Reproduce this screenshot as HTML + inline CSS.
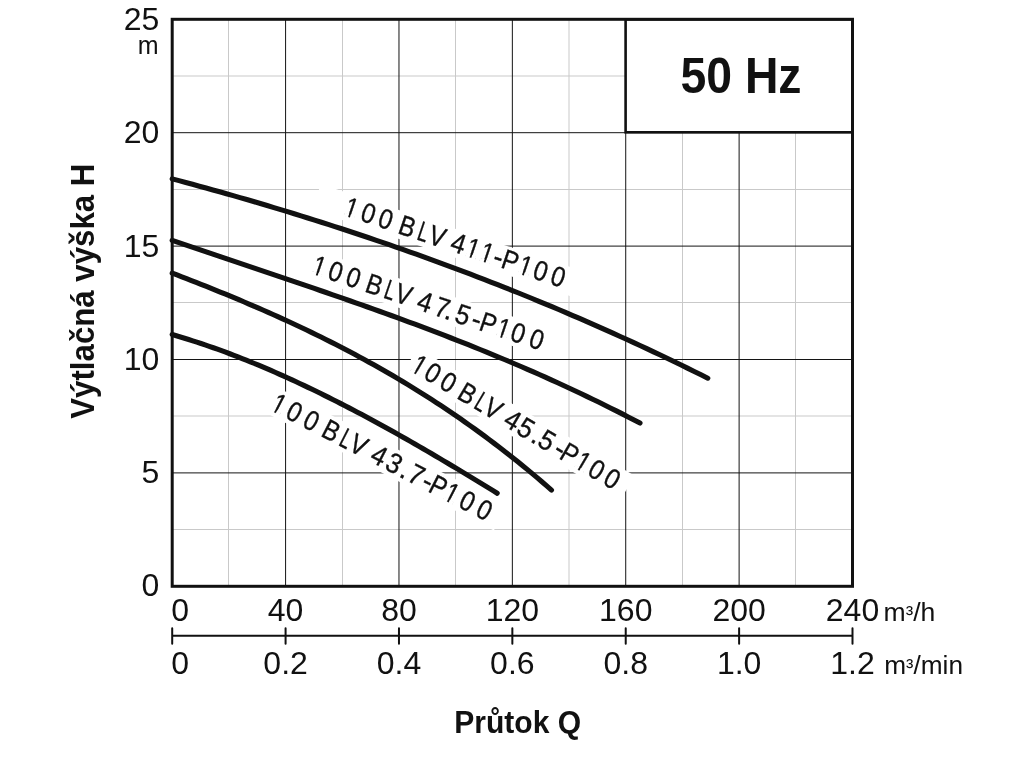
<!DOCTYPE html><html><head><meta charset="utf-8"><title>50 Hz</title><style>html,body{margin:0;padding:0;background:#fff;overflow:hidden;}svg{display:block;filter:grayscale(1);}</style></head><body>
<svg width="1024" height="768" viewBox="0 0 1024 768">
<rect width="1024" height="768" fill="#fff"/>
<path d="M228.5,19.3V586.3M342.5,19.3V586.3M455.5,19.3V586.3M569.0,19.3V586.3M682.5,19.3V586.3M795.5,19.3V586.3M172.2,76.0H852.5M172.2,189.5H852.5M172.2,302.5H852.5M172.2,416.0H852.5M172.2,529.5H852.5" stroke="#c9c9c9" stroke-width="1" fill="none"/>
<path d="M285.58,19.30V586.30M398.97,19.30V586.30M512.35,19.30V586.30M625.73,19.30V586.30M739.12,19.30V586.30M172.20,132.70H852.50M172.20,246.10H852.50M172.20,359.50H852.50M172.20,472.90H852.50" stroke="#141414" stroke-width="1" fill="none"/>
<rect x="625.6" y="19.3" width="226.90" height="113.00" fill="#fff" stroke="#111" stroke-width="2.6"/>
<text x="680.5" y="93.3" font-family="'Liberation Sans', sans-serif" font-weight="bold" font-size="50" fill="#111" textLength="121" lengthAdjust="spacingAndGlyphs">50 Hz</text>
<rect x="172.2" y="19.3" width="680.30" height="567.00" fill="none" stroke="#111" stroke-width="3"/>
<rect transform="translate(341.20,214.40) rotate(18.44)" x="-29" y="-22.5" width="272.5" height="27.5" fill="#fff"/><rect transform="translate(308.84,272.79) rotate(18.61)" x="-2.5" y="-23.5" width="257.6" height="28.0" fill="#fff"/><rect transform="translate(407.87,369.42) rotate(30.52)" x="-2.5" y="-23.5" width="251.9" height="28.0" fill="#fff"/><rect transform="translate(267.67,408.67) rotate(27.32)" x="-2.5" y="-23.5" width="259.4" height="28.0" fill="#fff"/>
<path d="M172.20,178.85 L178.98,180.66 L185.76,182.48 L192.54,184.32 L199.32,186.17 L206.10,188.04 L212.88,189.92 L219.66,191.82 L226.44,193.73 L233.22,195.66 L240.00,197.61 L246.78,199.57 L253.56,201.55 L260.34,203.54 L267.12,205.55 L273.90,207.58 L280.68,209.62 L287.46,211.68 L294.24,213.76 L301.02,215.85 L307.79,217.96 L314.57,220.09 L321.35,222.24 L328.13,224.40 L334.91,226.59 L341.69,228.79 L348.47,231.00 L355.25,233.24 L362.03,235.49 L368.81,237.77 L375.59,240.06 L382.37,242.37 L389.15,244.70 L395.93,247.05 L402.71,249.42 L409.49,251.80 L416.27,254.21 L423.05,256.64 L429.83,259.08 L436.61,261.55 L443.39,264.03 L450.17,266.54 L456.95,269.07 L463.73,271.62 L470.51,274.18 L477.29,276.77 L484.07,279.38 L490.85,282.01 L497.63,284.67 L504.41,287.34 L511.19,290.03 L517.97,292.75 L524.75,295.49 L531.53,298.25 L538.31,301.03 L545.09,303.84 L551.87,306.66 L558.65,309.51 L565.43,312.39 L572.21,315.28 L578.98,318.20 L585.76,321.14 L592.54,324.10 L599.32,327.09 L606.10,330.10 L612.88,333.14 L619.66,336.20 L626.44,339.28 L633.22,342.39 L640.00,345.52 L646.78,348.67 L653.56,351.85 L660.34,355.06 L667.12,358.29 L673.90,361.54 L680.68,364.82 L687.46,368.13 L694.24,371.46 L701.02,374.81 L707.80,378.19" stroke="#111" stroke-width="5.1" fill="none" stroke-linecap="round" stroke-linejoin="round"/>
<path d="M172.20,240.36 L178.12,242.38 L184.04,244.40 L189.96,246.41 L195.89,248.42 L201.81,250.42 L207.73,252.42 L213.65,254.42 L219.57,256.41 L225.49,258.41 L231.42,260.40 L237.34,262.39 L243.26,264.38 L249.18,266.37 L255.10,268.37 L261.02,270.36 L266.94,272.35 L272.87,274.35 L278.79,276.35 L284.71,278.36 L290.63,280.36 L296.55,282.37 L302.47,284.39 L308.39,286.41 L314.32,288.44 L320.24,290.47 L326.16,292.51 L332.08,294.56 L338.00,296.61 L343.92,298.67 L349.85,300.74 L355.77,302.82 L361.69,304.91 L367.61,307.01 L373.53,309.12 L379.45,311.24 L385.37,313.38 L391.30,315.52 L397.22,317.68 L403.14,319.85 L409.06,322.04 L414.98,324.23 L420.90,326.45 L426.83,328.68 L432.75,330.92 L438.67,333.18 L444.59,335.46 L450.51,337.75 L456.43,340.06 L462.35,342.39 L468.28,344.74 L474.20,347.10 L480.12,349.49 L486.04,351.89 L491.96,354.32 L497.88,356.77 L503.81,359.24 L509.73,361.73 L515.65,364.24 L521.57,366.78 L527.49,369.34 L533.41,371.92 L539.33,374.53 L545.26,377.16 L551.18,379.82 L557.10,382.50 L563.02,385.21 L568.94,387.95 L574.86,390.72 L580.78,393.51 L586.71,396.33 L592.63,399.18 L598.55,402.06 L604.47,404.97 L610.39,407.91 L616.31,410.88 L622.24,413.88 L628.16,416.92 L634.08,419.98 L640.00,423.08" stroke="#111" stroke-width="5.1" fill="none" stroke-linecap="round" stroke-linejoin="round"/>
<path d="M172.20,273.09 L177.00,274.93 L181.80,276.78 L186.60,278.65 L191.41,280.52 L196.21,282.41 L201.01,284.30 L205.81,286.21 L210.61,288.13 L215.41,290.07 L220.21,292.02 L225.01,293.98 L229.82,295.96 L234.62,297.95 L239.42,299.96 L244.22,301.99 L249.02,304.03 L253.82,306.09 L258.62,308.17 L263.42,310.26 L268.23,312.38 L273.03,314.51 L277.83,316.67 L282.63,318.84 L287.43,321.04 L292.23,323.26 L297.03,325.50 L301.83,327.76 L306.64,330.05 L311.44,332.36 L316.24,334.70 L321.04,337.06 L325.84,339.44 L330.64,341.85 L335.44,344.29 L340.24,346.76 L345.05,349.25 L349.85,351.77 L354.65,354.32 L359.45,356.90 L364.25,359.51 L369.05,362.14 L373.85,364.81 L378.65,367.51 L383.46,370.25 L388.26,373.01 L393.06,375.81 L397.86,378.64 L402.66,381.50 L407.46,384.40 L412.26,387.34 L417.06,390.31 L421.87,393.31 L426.67,396.36 L431.47,399.44 L436.27,402.55 L441.07,405.71 L445.87,408.90 L450.67,412.14 L455.47,415.41 L460.28,418.72 L465.08,422.08 L469.88,425.47 L474.68,428.91 L479.48,432.39 L484.28,435.91 L489.08,439.48 L493.88,443.09 L498.69,446.75 L503.49,450.45 L508.29,454.19 L513.09,457.99 L517.89,461.83 L522.69,465.71 L527.49,469.65 L532.29,473.63 L537.10,477.66 L541.90,481.74 L546.70,485.87 L551.50,490.05" stroke="#111" stroke-width="5.1" fill="none" stroke-linecap="round" stroke-linejoin="round"/>
<path d="M172.20,334.55 L176.31,335.75 L180.43,336.97 L184.54,338.23 L188.66,339.50 L192.77,340.81 L196.88,342.15 L201.00,343.51 L205.11,344.89 L209.23,346.31 L213.34,347.75 L217.45,349.21 L221.57,350.70 L225.68,352.22 L229.79,353.76 L233.91,355.32 L238.02,356.91 L242.14,358.52 L246.25,360.16 L250.36,361.82 L254.48,363.50 L258.59,365.20 L262.71,366.93 L266.82,368.68 L270.93,370.45 L275.05,372.24 L279.16,374.06 L283.28,375.89 L287.39,377.75 L291.50,379.62 L295.62,381.52 L299.73,383.44 L303.85,385.37 L307.96,387.33 L312.07,389.30 L316.19,391.30 L320.30,393.31 L324.42,395.34 L328.53,397.38 L332.64,399.45 L336.76,401.53 L340.87,403.63 L344.98,405.75 L349.10,407.88 L353.21,410.03 L357.33,412.19 L361.44,414.37 L365.55,416.57 L369.67,418.78 L373.78,421.00 L377.90,423.24 L382.01,425.50 L386.12,427.77 L390.24,430.05 L394.35,432.34 L398.47,434.65 L402.58,436.97 L406.69,439.30 L410.81,441.65 L414.92,444.01 L419.04,446.37 L423.15,448.76 L427.26,451.15 L431.38,453.55 L435.49,455.96 L439.61,458.38 L443.72,460.82 L447.83,463.26 L451.95,465.71 L456.06,468.17 L460.17,470.64 L464.29,473.12 L468.40,475.60 L472.52,478.10 L476.63,480.60 L480.74,483.11 L484.86,485.62 L488.97,488.15 L493.09,490.68 L497.20,493.21" stroke="#111" stroke-width="5.1" fill="none" stroke-linecap="round" stroke-linejoin="round"/>
<text transform="translate(341.20,214.40) rotate(18.44)" y="0" font-family="'Liberation Sans', sans-serif" font-size="28.0" fill="#111" stroke="#111" stroke-width="0.35"><tspan x="1.66" textLength="12.46" lengthAdjust="spacingAndGlyphs">1</tspan><tspan x="18.70" textLength="13.70" lengthAdjust="spacingAndGlyphs">0</tspan><tspan x="36.95" textLength="13.70" lengthAdjust="spacingAndGlyphs">0</tspan><tspan x="51.59"> </tspan><tspan x="58.60" textLength="16.06" lengthAdjust="spacingAndGlyphs">B</tspan><tspan x="78.64" textLength="10.28" lengthAdjust="spacingAndGlyphs">L</tspan><tspan x="90.26" textLength="16.06" lengthAdjust="spacingAndGlyphs">V</tspan><tspan x="107.62"> </tspan><tspan x="113.44" textLength="14.33" lengthAdjust="spacingAndGlyphs">4</tspan><tspan x="129.64" textLength="12.46" lengthAdjust="spacingAndGlyphs">1</tspan><tspan x="144.50" textLength="12.46" lengthAdjust="spacingAndGlyphs">1</tspan><tspan x="158.10" textLength="9.32" lengthAdjust="spacingAndGlyphs">-</tspan><tspan x="167.09" textLength="16.06" lengthAdjust="spacingAndGlyphs">P</tspan><tspan x="184.94" textLength="12.46" lengthAdjust="spacingAndGlyphs">1</tspan><tspan x="200.28" textLength="13.70" lengthAdjust="spacingAndGlyphs">0</tspan><tspan x="218.84" textLength="13.70" lengthAdjust="spacingAndGlyphs">0</tspan></text>
<g transform="translate(341.20,214.40) rotate(18.44)" fill="#fff"><rect x="2.76" y="-2.9" width="4.58" height="4.0"/><rect x="9.22" y="-2.9" width="4.40" height="4.0"/><rect x="130.74" y="-2.9" width="4.58" height="4.0"/><rect x="137.20" y="-2.9" width="4.40" height="4.0"/><rect x="145.60" y="-2.9" width="4.58" height="4.0"/><rect x="152.06" y="-2.9" width="4.40" height="4.0"/><rect x="186.05" y="-2.9" width="4.58" height="4.0"/><rect x="192.50" y="-2.9" width="4.40" height="4.0"/></g>
<text transform="translate(308.84,272.79) rotate(18.61)" y="0" font-family="'Liberation Sans', sans-serif" font-size="28.0" fill="#111" stroke="#111" stroke-width="0.35"><tspan x="1.66" textLength="12.46" lengthAdjust="spacingAndGlyphs">1</tspan><tspan x="18.26" textLength="13.70" lengthAdjust="spacingAndGlyphs">0</tspan><tspan x="37.07" textLength="13.70" lengthAdjust="spacingAndGlyphs">0</tspan><tspan x="51.71"> </tspan><tspan x="58.02" textLength="16.06" lengthAdjust="spacingAndGlyphs">B</tspan><tspan x="77.69" textLength="10.28" lengthAdjust="spacingAndGlyphs">L</tspan><tspan x="88.76" textLength="16.06" lengthAdjust="spacingAndGlyphs">V</tspan><tspan x="106.13"> </tspan><tspan x="112.39" textLength="14.33" lengthAdjust="spacingAndGlyphs">4</tspan><tspan x="130.41" textLength="14.33" lengthAdjust="spacingAndGlyphs">7</tspan><tspan x="141.61" textLength="7.78" lengthAdjust="spacingAndGlyphs">.</tspan><tspan x="152.31" textLength="14.33" lengthAdjust="spacingAndGlyphs">5</tspan><tspan x="169.47" textLength="9.32" lengthAdjust="spacingAndGlyphs">-</tspan><tspan x="178.35" textLength="16.06" lengthAdjust="spacingAndGlyphs">P</tspan><tspan x="196.26" textLength="12.46" lengthAdjust="spacingAndGlyphs">1</tspan><tspan x="210.91" textLength="13.70" lengthAdjust="spacingAndGlyphs">0</tspan><tspan x="230.42" textLength="13.70" lengthAdjust="spacingAndGlyphs">0</tspan></text>
<g transform="translate(308.84,272.79) rotate(18.61)" fill="#fff"><rect x="2.76" y="-2.9" width="4.58" height="4.0"/><rect x="9.22" y="-2.9" width="4.40" height="4.0"/><rect x="197.36" y="-2.9" width="4.58" height="4.0"/><rect x="203.82" y="-2.9" width="4.40" height="4.0"/></g>
<text transform="translate(407.87,369.42) rotate(30.52)" y="0" font-family="'Liberation Sans', sans-serif" font-size="28.0" fill="#111" stroke="#111" stroke-width="0.35"><tspan x="1.66" textLength="12.46" lengthAdjust="spacingAndGlyphs">1</tspan><tspan x="16.57" textLength="13.70" lengthAdjust="spacingAndGlyphs">0</tspan><tspan x="34.75" textLength="13.70" lengthAdjust="spacingAndGlyphs">0</tspan><tspan x="49.39"> </tspan><tspan x="55.59" textLength="16.06" lengthAdjust="spacingAndGlyphs">B</tspan><tspan x="75.10" textLength="10.28" lengthAdjust="spacingAndGlyphs">L</tspan><tspan x="85.51" textLength="16.06" lengthAdjust="spacingAndGlyphs">V</tspan><tspan x="102.88"> </tspan><tspan x="108.86" textLength="14.33" lengthAdjust="spacingAndGlyphs">4</tspan><tspan x="124.49" textLength="14.33" lengthAdjust="spacingAndGlyphs">5</tspan><tspan x="140.79" textLength="7.78" lengthAdjust="spacingAndGlyphs">.</tspan><tspan x="148.79" textLength="14.33" lengthAdjust="spacingAndGlyphs">5</tspan><tspan x="166.93" textLength="9.32" lengthAdjust="spacingAndGlyphs">-</tspan><tspan x="174.37" textLength="16.06" lengthAdjust="spacingAndGlyphs">P</tspan><tspan x="191.58" textLength="12.46" lengthAdjust="spacingAndGlyphs">1</tspan><tspan x="206.69" textLength="13.70" lengthAdjust="spacingAndGlyphs">0</tspan><tspan x="224.72" textLength="13.70" lengthAdjust="spacingAndGlyphs">0</tspan></text>
<g transform="translate(407.87,369.42) rotate(30.52)" fill="#fff"><rect x="2.76" y="-2.9" width="4.58" height="4.0"/><rect x="9.22" y="-2.9" width="4.40" height="4.0"/><rect x="192.68" y="-2.9" width="4.58" height="4.0"/><rect x="199.14" y="-2.9" width="4.40" height="4.0"/></g>
<text transform="translate(267.67,408.67) rotate(27.32)" y="0" font-family="'Liberation Sans', sans-serif" font-size="28.0" fill="#111" stroke="#111" stroke-width="0.35"><tspan x="1.66" textLength="12.46" lengthAdjust="spacingAndGlyphs">1</tspan><tspan x="18.51" textLength="13.70" lengthAdjust="spacingAndGlyphs">0</tspan><tspan x="37.61" textLength="13.70" lengthAdjust="spacingAndGlyphs">0</tspan><tspan x="52.25"> </tspan><tspan x="58.66" textLength="16.06" lengthAdjust="spacingAndGlyphs">B</tspan><tspan x="78.74" textLength="10.28" lengthAdjust="spacingAndGlyphs">L</tspan><tspan x="89.48" textLength="16.06" lengthAdjust="spacingAndGlyphs">V</tspan><tspan x="106.85"> </tspan><tspan x="113.53" textLength="14.33" lengthAdjust="spacingAndGlyphs">4</tspan><tspan x="130.32" textLength="14.33" lengthAdjust="spacingAndGlyphs">3</tspan><tspan x="146.69" textLength="7.78" lengthAdjust="spacingAndGlyphs">.</tspan><tspan x="155.32" textLength="14.33" lengthAdjust="spacingAndGlyphs">7</tspan><tspan x="171.22" textLength="9.32" lengthAdjust="spacingAndGlyphs">-</tspan><tspan x="179.36" textLength="16.06" lengthAdjust="spacingAndGlyphs">P</tspan><tspan x="196.19" textLength="12.46" lengthAdjust="spacingAndGlyphs">1</tspan><tspan x="212.97" textLength="13.70" lengthAdjust="spacingAndGlyphs">0</tspan><tspan x="232.30" textLength="13.70" lengthAdjust="spacingAndGlyphs">0</tspan></text>
<g transform="translate(267.67,408.67) rotate(27.32)" fill="#fff"><rect x="2.76" y="-2.9" width="4.58" height="4.0"/><rect x="9.22" y="-2.9" width="4.40" height="4.0"/><rect x="197.29" y="-2.9" width="4.58" height="4.0"/><rect x="203.75" y="-2.9" width="4.40" height="4.0"/></g>
<text x="159.3" y="30.1" text-anchor="end" font-family="'Liberation Sans', sans-serif" font-size="32" fill="#111">25</text>
<text x="159.3" y="142.8" text-anchor="end" font-family="'Liberation Sans', sans-serif" font-size="32" fill="#111">20</text>
<text x="159.3" y="256.7" text-anchor="end" font-family="'Liberation Sans', sans-serif" font-size="32" fill="#111">15</text>
<text x="159.3" y="369.5" text-anchor="end" font-family="'Liberation Sans', sans-serif" font-size="32" fill="#111">10</text>
<text x="159.3" y="482.5" text-anchor="end" font-family="'Liberation Sans', sans-serif" font-size="32" fill="#111">5</text>
<text x="159.3" y="595.7" text-anchor="end" font-family="'Liberation Sans', sans-serif" font-size="32" fill="#111">0</text>
<text x="158.5" y="53.9" text-anchor="end" font-family="'Liberation Sans', sans-serif" font-size="25" fill="#111">m</text>
<text transform="translate(93.5,418.7) rotate(-90)" font-family="'Liberation Sans', sans-serif" font-weight="bold" font-size="32.5" fill="#111" textLength="255" lengthAdjust="spacingAndGlyphs">Výtlačná výška H</text>
<path d="M172.2,635.8H852.5M172.20,628.3V643.7M285.58,628.3V643.7M398.97,628.3V643.7M512.35,628.3V643.7M625.73,628.3V643.7M739.12,628.3V643.7M852.50,628.3V643.7" stroke="#111" stroke-width="2" fill="none" stroke-linecap="round"/>
<text x="171.20" y="620.8" text-anchor="start" font-family="'Liberation Sans', sans-serif" font-size="32" fill="#111">0</text>
<text x="171.20" y="673.6" text-anchor="start" font-family="'Liberation Sans', sans-serif" font-size="32" fill="#111">0</text>
<text x="285.58" y="620.8" text-anchor="middle" font-family="'Liberation Sans', sans-serif" font-size="32" fill="#111">40</text>
<text x="285.58" y="673.6" text-anchor="middle" font-family="'Liberation Sans', sans-serif" font-size="32" fill="#111">0.2</text>
<text x="398.97" y="620.8" text-anchor="middle" font-family="'Liberation Sans', sans-serif" font-size="32" fill="#111">80</text>
<text x="398.97" y="673.6" text-anchor="middle" font-family="'Liberation Sans', sans-serif" font-size="32" fill="#111">0.4</text>
<text x="512.35" y="620.8" text-anchor="middle" font-family="'Liberation Sans', sans-serif" font-size="32" fill="#111">120</text>
<text x="512.35" y="673.6" text-anchor="middle" font-family="'Liberation Sans', sans-serif" font-size="32" fill="#111">0.6</text>
<text x="625.73" y="620.8" text-anchor="middle" font-family="'Liberation Sans', sans-serif" font-size="32" fill="#111">160</text>
<text x="625.73" y="673.6" text-anchor="middle" font-family="'Liberation Sans', sans-serif" font-size="32" fill="#111">0.8</text>
<text x="739.12" y="620.8" text-anchor="middle" font-family="'Liberation Sans', sans-serif" font-size="32" fill="#111">200</text>
<text x="739.12" y="673.6" text-anchor="middle" font-family="'Liberation Sans', sans-serif" font-size="32" fill="#111">1.0</text>
<text x="852.50" y="620.8" text-anchor="middle" font-family="'Liberation Sans', sans-serif" font-size="32" fill="#111">240</text>
<text x="852.50" y="673.6" text-anchor="middle" font-family="'Liberation Sans', sans-serif" font-size="32" fill="#111">1.2</text>
<text x="883.6" y="620.8" font-family="'Liberation Sans', sans-serif" font-size="25.5" fill="#111" textLength="51.8" lengthAdjust="spacingAndGlyphs">m<tspan font-size="21.5" dy="0.3">³</tspan><tspan dy="-0.3">/h</tspan></text>
<text x="884.2" y="673.6" font-family="'Liberation Sans', sans-serif" font-size="25.5" fill="#111" textLength="78.8" lengthAdjust="spacingAndGlyphs">m<tspan font-size="21.5" dy="0.3">³</tspan><tspan dy="-0.3">/min</tspan></text>
<text x="517.7" y="732.5" text-anchor="middle" font-family="'Liberation Sans', sans-serif" font-weight="bold" font-size="32" fill="#111" textLength="127" lengthAdjust="spacingAndGlyphs">Průtok Q</text>
</svg></body></html>
